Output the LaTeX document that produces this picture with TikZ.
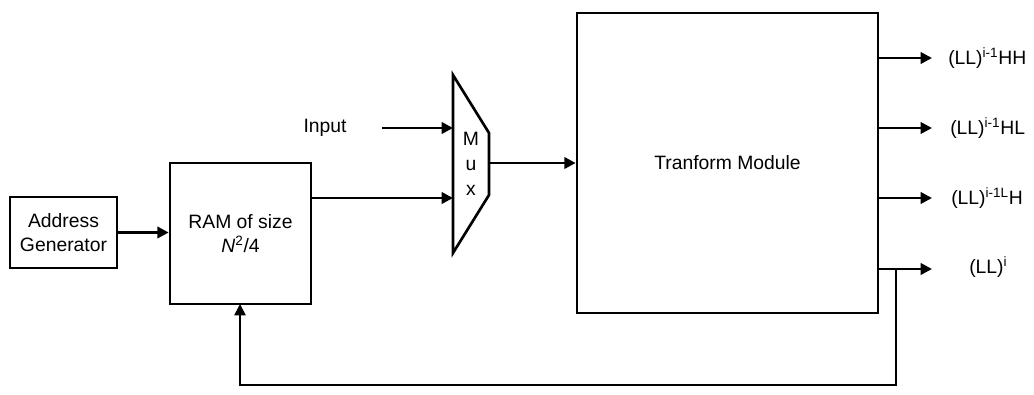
\documentclass[tikz,border=0pt]{standalone}
\usepackage{fontspec}
\setmainfont{Liberation Sans}
\usetikzlibrary{arrows.meta}
\begin{document}
\begin{tikzpicture}[x=0.75pt,y=-0.75pt,
  box/.style={draw,line width=2pt,inner sep=0pt,font=\fontsize{14.5}{17.5}\selectfont,align=center},
  lbl/.style={inner sep=0pt,font=\fontsize{14.5}{17.5}\selectfont},
  wire/.style={line width=2pt,-{Triangle[length=8.5pt,width=8.5pt]}},
  fb/.style={line width=1.3pt,-{Triangle[length=8.5pt,width=8.5pt]}}]
\useasboundingbox (0,0) rectangle (1034,395);
\node[box,minimum width=80.25pt,minimum height=53.25pt] (ag) at (63.5,232.5) {Address\\Generator};
\node[box,minimum width=105.75pt,minimum height=105.75pt] (ram) at (240.5,233.5) {RAM of size\\\textit{N}\textsuperscript{2}/4};
\node[box,minimum width=225.75pt,minimum height=225pt] (tm) at (727.5,163) {Tranform Module};
% mux
\draw[line width=2pt,line join=miter] (453,75) -- (489,133) -- (489,195) -- (453,253) -- cycle;
\node[lbl,align=center,font=\fontsize{14.5}{18.5}\selectfont] (mux) at (471,164) {M\\u\\x};
\coordinate (muxin1) at (453,128);
\coordinate (muxin2) at (453,198);
\coordinate (muxout) at (489,163);
\node[lbl] (input) at (325,128) {Input};
\coordinate (inputstart) at (382,128);
\draw[wire] (ag.east) -- (ag.east -| ram.west);
\draw[wire] (inputstart) -- (muxin1);
\draw[wire] (ram.east |- muxin2) -- (muxin2);
\draw[wire] (muxout) -- (muxout -| tm.west);
% outputs
\node[lbl,anchor=west] (o1) at (948,58) {(LL)\textsuperscript{i-1}HH};
\node[lbl,anchor=west] (o2) at (950,128) {(LL)\textsuperscript{i-1}HL};
\node[lbl,anchor=west] (o3) at (951,198) {(LL)\textsuperscript{i-1L}H};
\node[lbl,anchor=west] (o4) at (969,267) {(LL)\textsuperscript{i}};
\coordinate (e1) at (932,58);
\coordinate (e2) at (932,128);
\coordinate (e3) at (932,198);
\coordinate (e4) at (932,269);
\draw[wire] (e1 -| tm.east) -- (e1);
\draw[wire] (e2 -| tm.east) -- (e2);
\draw[wire] (e3 -| tm.east) -- (e3);
\draw[wire] (e4 -| tm.east) -- (e4);
% feedback
\coordinate (fbs) at (896,269);
\coordinate (fbc) at (896,385);
\coordinate (fbe) at (240,304);
\draw[fb] (fbs) -- (fbc) -| (fbe);
\end{tikzpicture}
\end{document}
